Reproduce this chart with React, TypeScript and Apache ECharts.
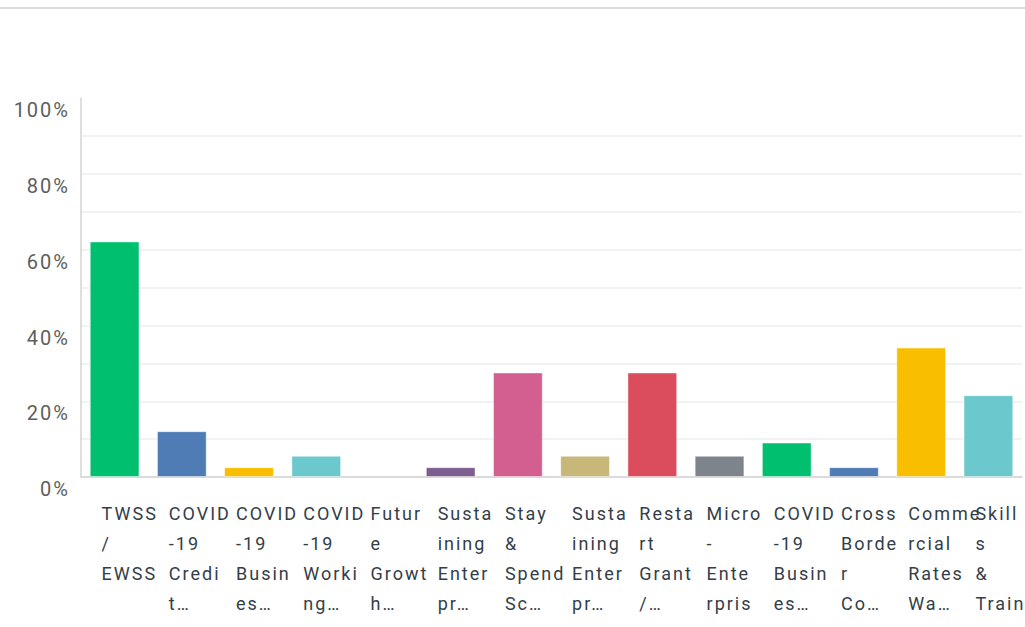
import React, { useEffect, useRef } from "react";
import * as echarts from "echarts";

const categoryLabels: string[] = [
  "TWSS\n/\nEWSS",
  "COVID\n-19\nCredi\nt…",
  "COVID\n-19\nBusin\nes…",
  "COVID\n-19\nWorki\nng…",
  "Futur\ne\nGrowt\nh…",
  "Susta\nining\nEnter\npr…",
  "Stay\n&\nSpend\nSc…",
  "Susta\nining\nEnter\npr…",
  "Resta\nrt\nGrant\n/…",
  "Micro\n-\nEnte\nrpris",
  "COVID\n-19\nBusin\nes…",
  "Cross\nBorde\nr\nCo…",
  "Comme\nrcial\nRates\nWa…",
  "Skill\ns\n&\nTrain",
];

const values: number[] = [62.2, 12.1, 2.6, 5.6, 0, 2.6, 27.6, 5.6, 27.6, 5.6, 9.1, 2.6, 34.2, 21.6];

const barColors: string[] = [
  "#00bf6f",
  "#507cb6",
  "#f9be00",
  "#6bc8cd",
  "#ff8b4f",
  "#7d5e90",
  "#d25f90",
  "#c7b879",
  "#db4d5c",
  "#7d848b",
  "#00bf6f",
  "#507cb6",
  "#f9be00",
  "#6bc8cd",
];

const yTicks: number[] = [0, 20, 40, 60, 80, 100];

export default function App() {
  const ref = useRef<HTMLDivElement>(null);

  useEffect(() => {
    if (!ref.current) return;
    const chart = echarts.init(ref.current, undefined, { renderer: "svg" });
    chart.setOption({
      animation: false,
      graphic: [
        {
          type: "rect",
          left: 0,
          top: 7,
          shape: { width: 1025, height: 2 },
          style: { fill: "#dcdcdc" },
        },
      ],
      grid: { left: 81, right: 3, top: 98.3, bottom: 150 },
      xAxis: {
        type: "category",
        data: categoryLabels.map((_, i) => String(i)),
        axisLine: { show: true, lineStyle: { color: "#d3d3d3", width: 1.5 } },
        axisTick: { show: false },
        axisLabel: {
          interval: 0,
          formatter: (_v: string, i: number) => categoryLabels[i],
          align: "left",
          verticalAlign: "top",
          padding: [0, 0, 0, -13],
          margin: 21,
          lineHeight: 30,
          fontSize: 18,
          fontFamily: "Roboto",
          color: "#333e48",
        },
      },
      yAxis: {
        type: "value",
        min: 0,
        max: 100,
        interval: 10,
        axisLine: { show: true, lineStyle: { color: "#d3d3d3", width: 1.5 } },
        axisTick: { show: false },
        splitLine: {
          show: true,
          showMaxLine: false,
          lineStyle: { color: "#eeeeee", width: 1.5 },
        },
        axisLabel: {
          formatter: (v: number) => (yTicks.indexOf(v) >= 0 ? v + "%" : ""),
          fontSize: 20,
          fontFamily: "Roboto",
          color: "#5e5e5e",
          margin: 11,
          verticalAlign: "top",
          lineHeight: 24,
        },
      },
      series: [
        {
          type: "bar",
          barCategoryGap: "26%",
          data: values.map((v, i) => ({
            value: v,
            itemStyle: {
              color: barColors[i],
              borderColor: "rgba(255,255,255,0.45)",
              borderWidth: v > 0 ? 1 : 0,
            },
          })),
        },
      ],
    });
    const applySpacing = () => {
      const dom = chart.getDom();
      dom.querySelectorAll("text").forEach((t) => {
        t.setAttribute("letter-spacing", "2");
      });
    };
    applySpacing();
    chart.on("finished", applySpacing);
    return () => {
      chart.dispose();
    };
  }, []);

  return (
    <div
      ref={ref}
      style={{ position: "absolute", left: 0, top: 0, width: 1025, height: 627 }}
    />
  );
}
